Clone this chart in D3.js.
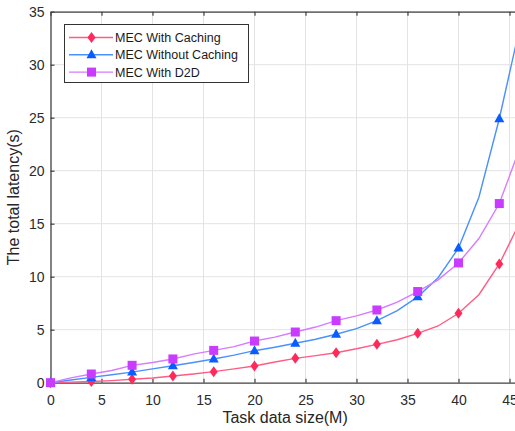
<!DOCTYPE html>
<html>
<head>
<meta charset="utf-8">
<script src="https://cdn.jsdelivr.net/npm/d3@7"></script>
<style>
  body { margin: 0; background: #fff; }
  svg { display: block; font-family: "Liberation Sans", Arial, sans-serif; }
</style>
</head>
<body>
<svg id="chart" width="515" height="431"></svg>
<script>
// data (x in M, latency in s)
var sizes = [0, 2, 4, 6, 8, 10, 12, 14, 16, 18, 20, 22, 24, 26, 28, 30, 32, 34, 36, 38, 40, 42, 44, 46];
var withCaching = [0, 0.05, 0.12, 0.2, 0.32, 0.45, 0.63, 0.82, 1.04, 1.3, 1.58, 1.95, 2.3, 2.55, 2.83, 3.2, 3.62, 4.05, 4.66, 5.35, 6.55, 8.3, 11.2, 15.1];
var withoutCaching = [0, 0.25, 0.5, 0.75, 1.0, 1.3, 1.6, 1.9, 2.24, 2.6, 3.02, 3.35, 3.72, 4.1, 4.57, 5.1, 5.85, 6.8, 8.1, 9.9, 12.7, 17.5, 24.9, 33.5];
var withD2D = [0, 0.45, 0.82, 1.15, 1.64, 1.9, 2.24, 2.7, 3.05, 3.4, 3.93, 4.3, 4.78, 5.25, 5.85, 6.3, 6.86, 7.6, 8.6, 9.7, 11.3, 13.6, 16.9, 22.1];
var xTicks = [0, 5, 10, 15, 20, 25, 30, 35, 40, 45];
var yTicks = [0, 5, 10, 15, 20, 25, 30, 35];
var seriesNames = ["MEC With Caching", "MEC Without Caching", "MEC With D2D"];

var series = [
  { name: seriesNames[0], values: withCaching, line: "#ff5c85", mark: "#ff2a5c", shape: "diamond" },
  { name: seriesNames[1], values: withoutCaching, line: "#4a90ff", mark: "#0a5cff", shape: "triangle" },
  { name: seriesNames[2], values: withD2D, line: "#d67cff", mark: "#c93bff", shape: "square" }
];

var svg = d3.select("#chart"),
    margin = {top: 11.7, left: 50.5},
    plotW = 469.2,
    plotH = 371;

var x = d3.scaleLinear().domain([0, 46]).range([margin.left, margin.left + plotW]);
var y = d3.scaleLinear().domain([0, 35]).range([margin.top + plotH, margin.top]);

// grid
var grid = svg.append("g");
grid.selectAll(".gx").data(xTicks.slice(1)).enter().append("line")
  .attr("x1", d => x(d)).attr("x2", d => x(d))
  .attr("y1", y(0)).attr("y2", y(35))
  .attr("stroke", "#e3e3e3").attr("stroke-width", 1);
grid.selectAll(".gy").data(yTicks.slice(1)).enter().append("line")
  .attr("x1", x(0)).attr("x2", x(46))
  .attr("y1", d => y(d)).attr("y2", d => y(d))
  .attr("stroke", "#e3e3e3").attr("stroke-width", 1);

// axes
var axisColor = "#404040";
var xAxis = svg.append("g")
  .attr("transform", "translate(0," + y(0) + ")")
  .call(d3.axisBottom(x).tickValues(xTicks).tickSizeInner(-4).tickSizeOuter(0).tickPadding(12));
var xTop = svg.append("g")
  .attr("transform", "translate(0," + y(35) + ")")
  .call(d3.axisTop(x).tickValues(xTicks).tickSizeInner(-4).tickSizeOuter(0).tickFormat(""));
var yAxis = svg.append("g")
  .attr("transform", "translate(" + x(0) + ",0)")
  .call(d3.axisLeft(y).tickValues(yTicks).tickSizeInner(-4).tickSizeOuter(0).tickPadding(6));

[xAxis, xTop, yAxis].forEach(function(a) {
  a.select(".domain").attr("stroke", axisColor).attr("stroke-width", 1.3);
  a.selectAll(".tick line").attr("stroke", axisColor).attr("stroke-width", 1.2);
  a.selectAll("text").attr("fill", "#2b2b2b").style("font-size", "14px")
    .style("font-family", "'Liberation Sans', Arial, sans-serif");
});

// axis titles
svg.append("text")
  .attr("x", x(23)).attr("y", 423)
  .attr("text-anchor", "middle")
  .style("font-size", "16px").attr("fill", "#262626")
  .text("Task data size(M)");
svg.append("text")
  .attr("transform", "translate(19," + (y(17.5)) + ") rotate(-90)")
  .attr("text-anchor", "middle")
  .style("font-size", "16px").attr("fill", "#262626")
  .text("The total latency(s)");

var line = d3.line().x(d => x(d[0])).y(d => y(d[1]));

function drawMarker(g, shape, color, cx, cy) {
  if (shape === "diamond") {
    g.append("path").attr("d", "M" + cx + "," + (cy - 5.5) + "L" + (cx + 4) + "," + cy + "L" + cx + "," + (cy + 5.5) + "L" + (cx - 4) + "," + cy + "Z")
      .attr("fill", color);
  } else if (shape === "triangle") {
    g.append("path").attr("d", "M" + cx + "," + (cy - 5.5) + "L" + (cx + 5) + "," + (cy + 3.5) + "L" + (cx - 5) + "," + (cy + 3.5) + "Z")
      .attr("fill", color);
  } else {
    g.append("rect").attr("x", cx - 4.5).attr("y", cy - 4.5).attr("width", 9).attr("height", 9)
      .attr("fill", color);
  }
}

series.forEach(function(s) {
  var pts = sizes.map((d, i) => [d, s.values[i]]);
  svg.append("path").datum(pts)
    .attr("d", line)
    .attr("fill", "none")
    .attr("stroke", s.line)
    .attr("stroke-width", 1.4);
  var mg = svg.append("g");
  pts.forEach(function(p) {
    if (p[0] % 4 === 0 && p[0] <= 44) drawMarker(mg, s.shape, s.mark, x(p[0]), y(p[1]));
  });
});

// legend
var lg = svg.append("g");
lg.append("rect").attr("x", 64.5).attr("y", 24.5).attr("width", 184).attr("height", 58)
  .attr("fill", "#fff").attr("stroke", "#333").attr("stroke-width", 1);
series.forEach(function(s, i) {
  var ly = 37.5 + i * 17.3;
  lg.append("line").attr("x1", 69).attr("x2", 113).attr("y1", ly).attr("y2", ly)
    .attr("stroke", s.line).attr("stroke-width", 1.4);
  drawMarker(lg, s.shape, s.mark, 91.5, ly);
  lg.append("text").attr("x", 115).attr("y", ly + 4.5)
    .style("font-size", "12.5px").attr("fill", "#1a1a1a")
    .text(s.name);
});
</script>
</body>
</html>
